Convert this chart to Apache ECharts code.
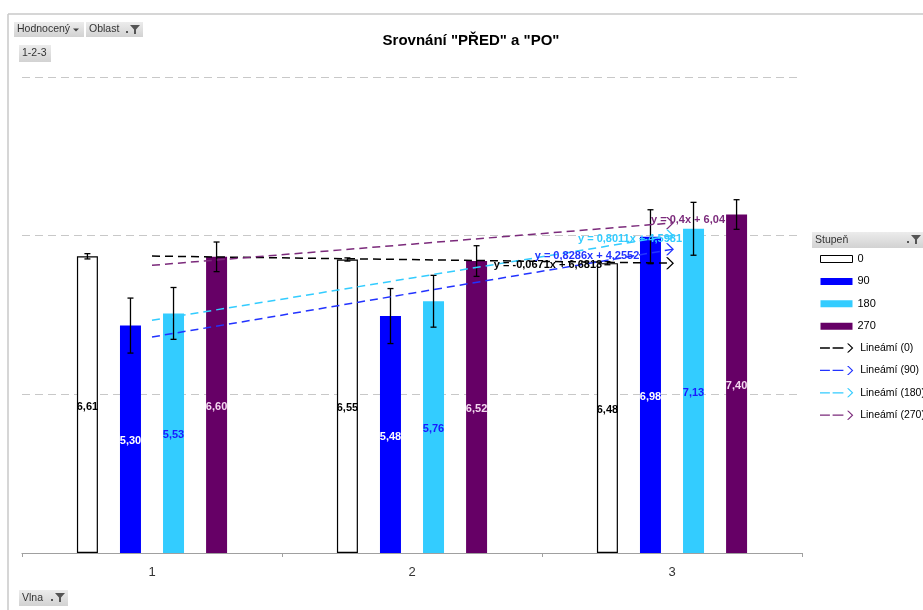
<!DOCTYPE html>
<html><head><meta charset="utf-8">
<script src="https://cdn.jsdelivr.net/npm/echarts/dist/echarts.min.js"></script>
<style>html,body{margin:0;padding:0;background:#fff}#c{width:923px;height:610px}</style>
</head><body><div id="c"></div>
<script>
// ---- data ----
const categories = ['1', '2', '3'];
const seriesNames = ['0', '90', '180', '270'];
const values0 = [6.61, 6.55, 6.48];
const values90 = [5.30, 5.48, 6.98];
const values180 = [5.53, 5.76, 7.13];
const values270 = [6.60, 6.52, 7.40];
const errors0 = [0.05, 0.03, 0.03];
const errors90 = [0.52, 0.52, 0.51];
const errors180 = [0.49, 0.49, 0.50];
const errors270 = [0.28, 0.29, 0.28];
const trendSlopes = [-0.0671, 0.8286, 0.8011, 0.4];
const trendIntercepts = [6.6813, 4.2552, 4.5981, 6.04];
const trendNames = ['Lineámí (0)', 'Lineámí (90)', 'Lineámí (180)', 'Lineámí (270)'];
const trendLabels = ['y = -0,0671x + 6,6813', 'y = 0,8286x + 4,2552', 'y = 0,8011x + 4,5981', 'y = 0,4x + 6,04'];
const yMin = 1, yMax = 10, yStep = 3;
const titleText = 'Srovnání "PŘED" a "PO"';

// ---- style ----
const SANS = "'Liberation Sans', Arial, sans-serif";
const barColors = ['#ffffff', '#0000ff', '#33ccff', '#660066'];
const labelColors = ['#000000', '#ffffff', '#1a1aff', '#f3d9f0'];
const trendColors = ['#000000', '#2233ff', '#33ccff', '#7b2a7b'];
const eqOffsets = [[-122, 2], [-83, 7], [-40, 3], [18, -3]];
const BAR_W = 21, BAR_GAP = 1.05;

const allValues = [values0, values90, values180, values270];
const allErrors = [errors0, errors90, errors180, errors270];

const series = [];
allValues.forEach((vals, i) => {
  series.push({
    name: seriesNames[i], type: 'bar', barWidth: BAR_W, barGap: (BAR_GAP * 100) + '%',
    data: vals, z: 2, clip: true,
    itemStyle: i === 0 ? { color: barColors[i], borderColor: '#000', borderWidth: 1.2 } : { color: barColors[i] },
    label: {
      show: true, position: 'inside', offset: [0, 2], color: labelColors[i], fontFamily: SANS,
      fontWeight: 'bold', fontSize: 11,
      formatter: p => p.value.toFixed(2).replace('.', ',')
    }
  });
});
allErrors.forEach((errs, i) => {
  series.push({
    type: 'custom', z: 4, silent: true,
    encode: { x: 0, y: 1 },
    data: errs.map((e, k) => [k, allValues[i][k], e]),
    renderItem: (params, api) => {
      const x = api.value(0), v = api.value(1), e = api.value(2);
      const hi = api.coord([x, v + e]), lo = api.coord([x, v - e]);
      const off = (i - 1.5) * BAR_W * (1 + BAR_GAP);
      const cx = hi[0] + off;
      const st = { stroke: '#000', lineWidth: 1.3 };
      return { type: 'group', children: [
        { type: 'line', shape: { x1: cx, y1: hi[1], x2: cx, y2: lo[1] }, style: st },
        { type: 'line', shape: { x1: cx - 3, y1: hi[1], x2: cx + 3, y2: hi[1] }, style: st },
        { type: 'line', shape: { x1: cx - 3, y1: lo[1], x2: cx + 3, y2: lo[1] }, style: st }
      ]};
    }
  });
});
const chevron = 'path://M0,0 L1.8,0 L8,6 L1.8,12 L0,12 L6.2,6 Z';
trendSlopes.forEach((a, i) => {
  const b = trendIntercepts[i];
  const data = categories.map((c, k) => {
    const v = +(a * (k + 1) + b).toFixed(4);
    if (k < categories.length - 1) return v;
    return {
      value: v,
      label: {
        show: true, position: 'inside', formatter: trendLabels[i], offset: eqOffsets[i],
        color: trendColors[i], fontFamily: SANS, fontWeight: 'bold', fontSize: 11
      }
    };
  });
  series.push({
    name: trendNames[i], type: 'line', z: 5, silent: true, data,
    symbol: (val, p) => p.dataIndex === categories.length - 1 ? chevron : 'none',
    symbolSize: [8, 12], symbolOffset: [-2, 0],
    lineStyle: { color: trendColors[i], width: 1.5, type: [8, 5] },
    itemStyle: { color: trendColors[i], borderWidth: 0 },
    label: { show: false }
  });
});

// ---- decorations (pivot buttons, frame) ----
const btnFill = new echarts.graphic.LinearGradient(0, 0, 0, 1, [
  { offset: 0, color: '#ececec' }, { offset: 1, color: '#d2d2d2' }]);
function button(x, y, w, h, text) {
  return [
    { type: 'rect', shape: { x, y, width: w, height: h }, style: { fill: btnFill } },
    { type: 'text', x: x + 3, y: y + h / 2, style: { text, fill: '#333', font: '10.5px ' + SANS, verticalAlign: 'middle' } }
  ];
}
function funnel(x, y) {
  return [
    { type: 'rect', shape: { x: x - 4, y: y + 6, width: 2, height: 2 }, style: { fill: '#555' } },
    { type: 'polygon', shape: { points: [[x, y], [x + 10, y], [x + 6, y + 4.5], [x + 6, y + 9], [x + 4, y + 9], [x + 4, y + 4.5]] }, style: { fill: '#555' } }
  ];
}
const graphics = [
  { type: 'line', shape: { x1: 8, y1: 14, x2: 923, y2: 14 }, style: { stroke: '#c8c8c8', lineWidth: 1.5 } },
  { type: 'line', shape: { x1: 8, y1: 14, x2: 8, y2: 610 }, style: { stroke: '#c8c8c8', lineWidth: 1.5 } },
  ...button(14, 22, 70, 15, 'Hodnocený'),
  { type: 'polygon', shape: { points: [[73, 28.5], [79, 28.5], [76, 31.5]] }, style: { fill: '#444' } },
  ...button(86, 22, 57, 15, 'Oblast'),
  ...funnel(130, 25),
  ...button(19, 45, 32, 17, '1-2-3'),
  ...button(19, 590, 49, 16, 'Vlna'),
  ...funnel(55, 593),
  ...button(812, 232, 111, 16, 'Stupeň'),
  ...funnel(911, 235)
];

const chart = echarts.init(document.getElementById('c'), null, { renderer: 'canvas' });
chart.setOption({
  animation: false,
  backgroundColor: '#fff',
  title: {
    text: titleText, left: 466, top: 28, textAlign: 'center',
    textStyle: { fontFamily: SANS, fontWeight: 'bold', fontSize: 15, color: '#000' }
  },
  grid: { left: 22, right: 121, top: 77, bottom: 57 },
  xAxis: {
    type: 'category', data: categories,
    axisLine: { lineStyle: { color: '#a0a0a0', width: 1.2 } },
    axisTick: { show: true, length: 4, lineStyle: { color: '#a0a0a0' } },
    axisLabel: { color: '#333', fontSize: 13, fontFamily: SANS, margin: 13 }
  },
  yAxis: {
    type: 'value', min: yMin, max: yMax, interval: yStep, startValue: yMin,
    axisLabel: { show: false }, axisLine: { show: false }, axisTick: { show: false },
    splitLine: { lineStyle: { type: [8, 5], color: '#c8c8c8', width: 1.2 } }
  },
  legend: [
    {
      data: seriesNames.map((n, i) => i === 0 ? { name: n, itemStyle: { borderColor: '#000', borderWidth: 1 } } : { name: n }),
      orient: 'vertical', left: 820, top: 252, padding: 0, itemWidth: 32, itemHeight: 7, itemGap: 8.4,
      icon: 'rect', selectedMode: false,
      textStyle: { fontFamily: SANS, fontSize: 11, color: '#000', lineHeight: 14 }
    },
    {
      data: trendNames.map((n, i) => ({ name: n, itemStyle: { color: trendColors[i], borderWidth: 0 } })),
      orient: 'vertical', left: 820, top: 341, padding: 0, itemWidth: 37, itemHeight: 9, itemGap: 8.4,
      icon: 'path://M0,4.3 L11,4.3 L11,5.7 L0,5.7 Z M14,4.3 L26,4.3 L26,5.7 L14,5.7 Z M30,0 L31.8,0 L37,5 L31.8,10 L30,10 L35.2,5 Z',
      selectedMode: false, itemStyle: { borderWidth: 0 },
      textStyle: { fontFamily: SANS, fontSize: 10.5, color: '#000', lineHeight: 14 }
    }
  ],
  graphic: graphics,
  series
});
</script></body></html>
